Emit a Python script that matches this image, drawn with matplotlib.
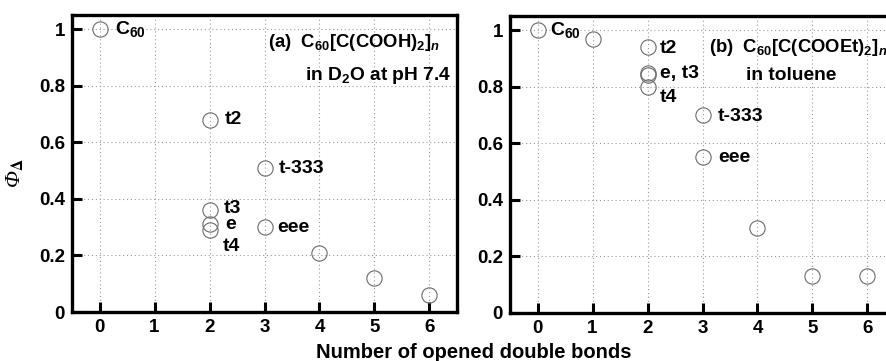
"""Singlet oxygen quantum yield vs number of opened double bonds, two panels."""

import matplotlib
matplotlib.use('Agg')
import matplotlib.pyplot as plt

plt.rcParams['font.family'] = ['Liberation Sans', 'DejaVu Sans']
plt.rcParams['font.weight'] = 'bold'
plt.rcParams['mathtext.fontset'] = 'custom'
plt.rcParams['mathtext.rm'] = 'Liberation Sans:bold'
plt.rcParams['mathtext.bf'] = 'Liberation Sans:bold'
plt.rcParams['mathtext.it'] = 'Liberation Sans:bold:italic'
plt.rcParams['mathtext.default'] = 'rm'

# (a) C60[C(COOH)2]n in D2O
bonds_a = [0, 2, 2, 2, 2, 3, 3, 4, 5, 6]
phi_a = [1.00, 0.68, 0.36, 0.31, 0.29, 0.51, 0.30, 0.21, 0.12, 0.06]
labels_a = ['C$_{60}$', 't2', 't3', 'e', 't4', 't-333', 'eee', '', '', '']
label_pos_a = [(0.29, 1.00), (2.28, 0.68), (2.26, 0.367), (2.28, 0.311),
               (2.24, 0.233), (3.25, 0.509), (3.24, 0.30), None, None, None]

# (b) C60[C(COOEt)2]n in toluene
bonds_b = [0, 1, 2, 2, 2, 2, 3, 3, 4, 5, 6]
phi_b = [1.00, 0.97, 0.94, 0.85, 0.84, 0.80, 0.70, 0.55, 0.30, 0.13, 0.13]
labels_b = ['C$_{60}$', '', 't2', 'e, t3', '', 't4', 't-333', 'eee', '', '', '']
label_pos_b = [(0.23, 1.00), None, (2.23, 0.936), (2.22, 0.848), None,
               (2.22, 0.763), (3.28, 0.693), (3.28, 0.548), None, None, None]

xticks = [0, 1, 2, 3, 4, 5, 6]
yticks = [0, 0.2, 0.4, 0.6, 0.8, 1]
ytick_labels = ['0', '0.2', '0.4', '0.6', '0.8', '1']

fig = plt.figure(figsize=(8.87, 3.61), dpi=100)
ax_a = fig.add_axes([0.0812, 0.1357, 0.434, 0.8227])
ax_b = fig.add_axes([0.575, 0.1330, 0.434, 0.8227])


def style_axes(ax):
    ax.set_xlim(-0.5, 6.5)
    ax.set_ylim(0, 1.05)
    ax.set_xticks(xticks)
    ax.set_yticks(yticks)
    ax.set_yticklabels(ytick_labels)
    ax.tick_params(direction='in', length=7, width=2.2, labelsize=13.5,
                   pad=5, top=False, right=False)
    ax.grid(True, linestyle=(0, (1, 2.5)), color='#9a9a9a', linewidth=0.8)
    ax.set_axisbelow(True)
    for sp in ax.spines.values():
        sp.set_linewidth(2.4)


def plot_panel(ax, xs, ys, labels, positions):
    ax.plot(xs, ys, linestyle='none', marker='o', markersize=11,
            markerfacecolor='none', markeredgecolor='#6a6a6a',
            markeredgewidth=0.8)
    for lab, pos in zip(labels, positions):
        if pos is None or not lab:
            continue
        ax.text(pos[0], pos[1], lab, fontsize=14, fontweight='bold',
                ha='left', va='center')


style_axes(ax_a)
style_axes(ax_b)
plot_panel(ax_a, bonds_a, phi_a, labels_a, label_pos_a)
plot_panel(ax_b, bonds_b, phi_b, labels_b, label_pos_b)

ax_a.text(3.06, 0.936, r'(a)  C$_{60}$[C(COOH)$_2$]$_{\mathit{n}}$',
          fontsize=13.3, fontweight='bold', ha='left', va='baseline')
ax_a.text(3.73, 0.820, r'in D$_2$O at pH 7.4',
          fontsize=13.8, fontweight='bold', ha='left', va='baseline')
ax_b.text(3.12, 0.922, r'(b)  C$_{60}$[C(COOEt)$_2$]$_{\mathit{n}}$',
          fontsize=13.3, fontweight='bold', ha='left', va='baseline')
ax_b.text(3.80, 0.823, 'in toluene',
          fontsize=13.8, fontweight='bold', ha='left', va='baseline')

fig.text(474 / 887, 0.008, 'Number of opened double bonds', fontsize=14.5,
         fontweight='bold', ha='center', va='baseline')
fig.text(0.017, 0.52, r'Φ$_{\Delta}$', fontsize=16, family='Liberation Serif',
         style='italic', fontweight='normal', rotation=90,
         ha='center', va='center', math_fontfamily='stix')

fig.savefig('out.png', dpi=100)
